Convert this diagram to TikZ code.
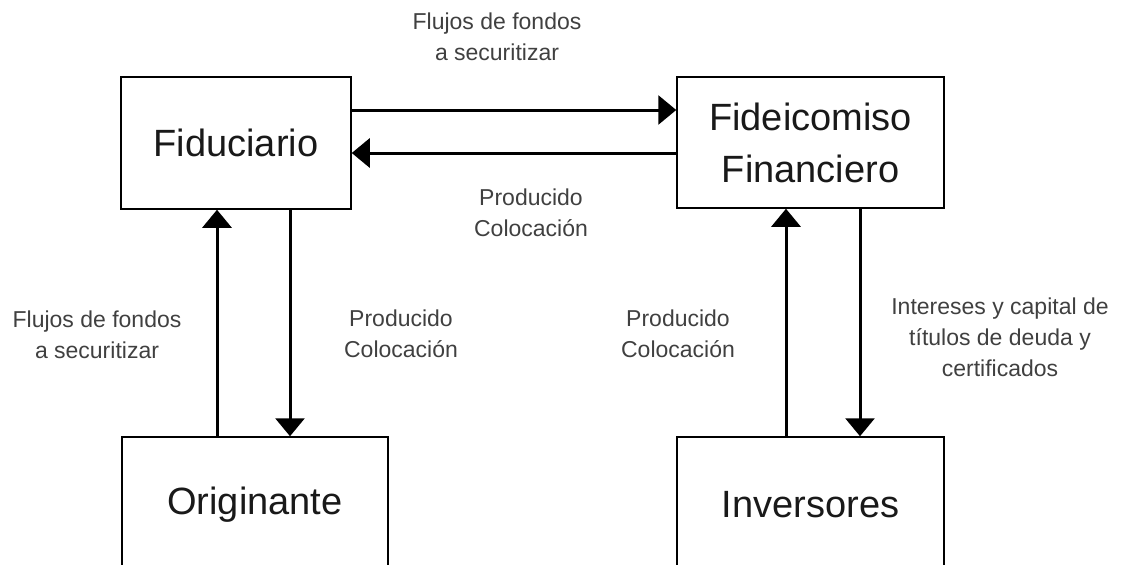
\documentclass[tikz,border=0pt]{standalone}
\usepackage{fontspec}
\setmainfont{Liberation Sans}
\usetikzlibrary{arrows.meta}
\begin{document}
\begin{tikzpicture}[x=1pt,y=-1pt,
	box/.style={draw,line width=1.5pt,inner sep=0pt,align=center,text=black!90,font=\fontsize{38}{52}\selectfont},
	flow/.style={line width=3pt,-{Triangle[length=18pt,width=29pt]}},
	lbl/.style={align=center,text=black!75,font=\fontsize{23}{31}\selectfont}]
		\useasboundingbox (0,0) rectangle (1128,565);
		\clip (0,0) rectangle (1128,565);
		\node[box,minimum width=230,minimum height=132] (fid) at (236,143) {Fiduciario};
		\node[box,minimum width=267,minimum height=131] (fideic) at (810.5,142.5) {Fideicomiso\\Financiero};
		\node[box,minimum width=266,minimum height=136] (orig) at (255,505) {Originante};
		\node[box,minimum width=267,minimum height=136] (inv) at (810.5,505) {Inversores};
		\draw[flow] ([yshift=33pt]fid.east) -- ([yshift=33pt]fid.east -| fideic.west);
		\draw[flow] ([yshift=-10.5pt]fideic.west) -- ([yshift=-10.5pt]fideic.west -| fid.east);
		\draw[flow] (orig.north -| 217,0) -- (fid.south -| 217,0);
		\draw[flow] (fid.south -| 290,0) -- (orig.north -| 290,0);
		\draw[flow] (inv.north -| 786,0) -- (fideic.south -| 786,0);
		\draw[flow] (fideic.south -| 860,0) -- (inv.north -| 860,0);
		\node[lbl] (l1) at (497,37) {Flujos de fondos\\a securitizar};
		\node[lbl] (l2) at (531,213) {Producido\\Colocación};
		\node[lbl] (l3) at (97,335) {Flujos de fondos\\a securitizar};
		\node[lbl] (l4) at (401,334) {Producido\\Colocación};
		\node[lbl] (l5) at (678,334) {Producido\\Colocación};
		\node[lbl] (l6) at (1000,337) {Intereses y capital de\\títulos de deuda y\\certificados};
	\end{tikzpicture}
\end{document}
